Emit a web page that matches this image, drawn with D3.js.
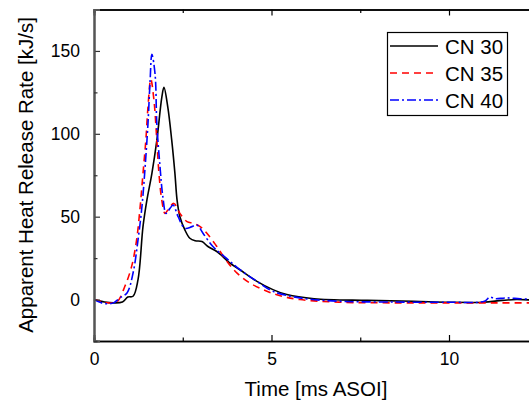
<!DOCTYPE html>
<html><head><meta charset="utf-8">
<script src="https://cdn.jsdelivr.net/npm/d3@7"></script>
<style>body{margin:0;background:#fff;overflow:hidden}svg{display:block}text{font-family:"Liberation Sans",Arial,sans-serif}</style>
</head><body><svg id="c" width="529" height="404"></svg>
<script>
const seriesNames = ["CN 30", "CN 35", "CN 40"];
const seriesColors = ["#000000", "#ff0000", "#0000ff"];
const xTicks = [0, 5, 10];
const yTicks = [0, 50, 100, 150];
// time [ms ASOI]
const t30 = [0,0.3,0.55,0.8,0.95,1.1,1.24,1.38,1.49,1.63,1.77,1.91,1.97,2.08,2.19,2.28,2.34,2.42,2.56,2.7,2.85,3.04,3.21,3.46,3.83,4.11,4.59,5.04,5.43,6.2,7.7,9.0,10.0,10.96,11.5,11.9,12.5];
const v30 = [0,-1.5,-2,-1.5,1.5,2,12,44,60,76,96,122,128,116,96,76,60,50,42,37,35.5,35,32,29,22,18,11,6,3,0.5,-0.5,-1,-1.6,-1.6,-0.5,0,-0.5];
const t35 = [0,0.2,0.4,0.64,0.87,1.06,1.2,1.3,1.38,1.46,1.52,1.6,1.69,1.77,1.83,1.91,2.0,2.08,2.25,2.42,2.62,2.8,2.99,3.18,3.46,3.78,4.03,4.39,4.87,5.3,5.8,6.93,8.6,10.0,11.4,12.5];
const v35 = [0,-1,-2,-1.5,8,20,36,56,76,96,116,133,120,96,76,60,52,54,58,52,47,46,44,40,32,22,16,10,5,2,0,-1.6,-2,-2,-2,-2];
const t40 = [0,0.15,0.31,0.55,0.73,0.93,1.1,1.24,1.35,1.44,1.52,1.58,1.63,1.72,1.77,1.86,1.94,2.03,2.14,2.23,2.37,2.56,2.76,2.9,3.07,3.35,3.78,4.11,4.59,5.04,5.8,6.9,8.5,10.0,11.0,11.15,11.3,11.6,12.0,12.5];
const v40 = [0,-1.5,-2.5,-2,1,4,16,36,56,80,106,132,148,136,106,80,62,52,55,57,50,43,44,45,40,32,24,18,11,5,1,-1,-1.5,-1.6,-1,1.5,0.5,1,0.5,0];

const svg = d3.select("#c");
const x = d3.scaleLinear().domain([0, 12.5]).range([94, 537.75]);
const y = d3.scaleLinear().domain([-25, 175]).range([341, 9.5]);
const F = '"Liberation Sans",Arial,sans-serif';

// curves
const data = [[t30, v30], [t35, v35], [t40, v40]];
const dashes = [null, "7,5", "9,3,2,3"];
const line = d3.line().x(d => x(d[0])).y(d => y(d[1])).curve(d3.curveCatmullRom.alpha(0.5));
[0, 1, 2].forEach(i => {
  const pts = data[i][0].map((t, k) => [t, data[i][1][k]]);
  svg.append("path").datum(pts).attr("d", line)
    .attr("fill", "none").attr("stroke", seriesColors[i]).attr("stroke-width", 1.6)
    .attr("stroke-dasharray", dashes[i]);
});

// axes
const gB = svg.append("g").attr("transform", `translate(0,${y(-25)})`)
  .call(d3.axisBottom(x).tickValues(xTicks).tickSize(-6).tickPadding(12).tickFormat(d3.format("d")));
const gBm = svg.append("g").attr("transform", `translate(0,${y(-25)})`)
  .call(d3.axisBottom(x).tickValues([2.5, 7.5, 12.5]).tickSize(-3.5).tickFormat(""));
const gT = svg.append("g").attr("transform", `translate(0,${y(175)})`)
  .call(d3.axisTop(x).tickValues(xTicks).tickSize(-6).tickFormat(""));
const gTm = svg.append("g").attr("transform", `translate(0,${y(175)})`)
  .call(d3.axisTop(x).tickValues([2.5, 7.5]).tickSize(-3.5).tickFormat(""));
const gL = svg.append("g").attr("transform", `translate(${x(0)},0)`)
  .call(d3.axisLeft(y).tickValues(yTicks).tickSize(-6).tickPadding(14).tickFormat(d3.format("d")));
const gLm = svg.append("g").attr("transform", `translate(${x(0)},0)`)
  .call(d3.axisLeft(y).tickValues([-25, 25, 75, 125]).tickSize(-3.5).tickFormat(""));
[gB, gBm, gT, gTm].forEach(g => {
  g.select(".domain").attr("stroke", "#000").attr("stroke-width", 1.6);
  g.selectAll(".tick line").attr("stroke", "#000").attr("stroke-width", 1.2);
});
[gL, gLm].forEach(g => {
  g.select(".domain").attr("stroke", "#555").attr("stroke-width", 2);
  g.selectAll(".tick line").attr("stroke", "#333").attr("stroke-width", 1.2);
});
[gB, gL].forEach(g => g.selectAll(".tick text").attr("font-family", F).attr("font-size", 17.5).attr("fill", "#000"));

// titles
svg.append("text").attr("x", 316).attr("y", 396).attr("text-anchor", "middle")
  .attr("font-size", 20.5).attr("fill", "#000").text("Time [ms ASOI]");
svg.append("text").attr("transform", "translate(33,175) rotate(-90)").attr("text-anchor", "middle")
  .attr("font-size", 20.5).attr("fill", "#000").text("Apparent Heat Release Rate [kJ/s]");

// legend
const lg = svg.append("g");
lg.append("rect").attr("x", 387.5).attr("y", 32.5).attr("width", 120).attr("height", 83)
  .attr("fill", "#fff").attr("stroke", "#000").attr("stroke-width", 1.2);
seriesNames.forEach((n, i) => {
  const yy = 46 + i * 27;
  lg.append("line").attr("x1", 390).attr("x2", 438).attr("y1", yy).attr("y2", yy)
    .attr("stroke", seriesColors[i]).attr("stroke-width", 1.6).attr("stroke-dasharray", dashes[i]);
  lg.append("text").attr("x", 445).attr("y", yy + 7.5).attr("font-size", 20.5).attr("fill", "#000").text(n);
});
</script></body></html>
